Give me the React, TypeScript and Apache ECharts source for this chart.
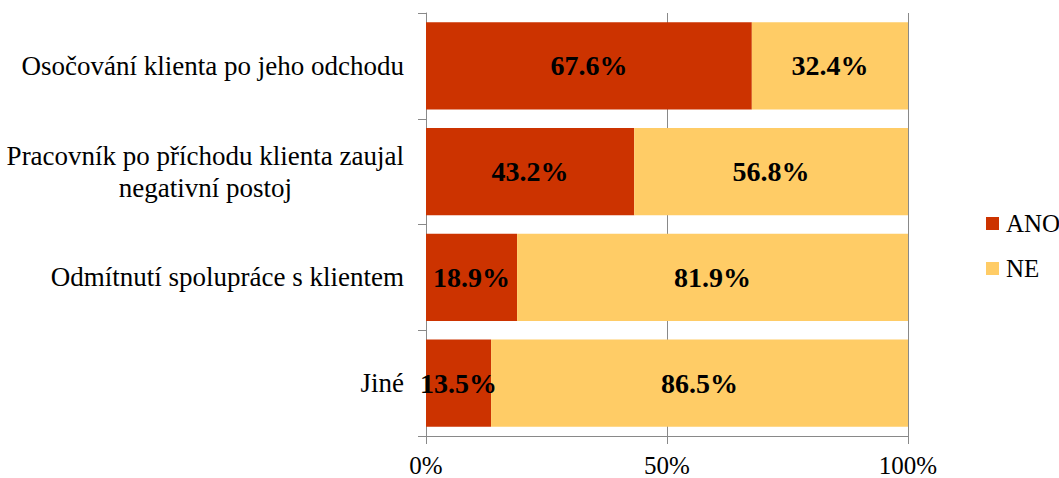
import React, { useEffect, useRef } from "react";
import * as echarts from "echarts";

const categories = [
  "Osočování klienta po jeho odchodu",
  "Pracovník po příchodu klienta zaujal\nnegativní postoj",
  "Odmítnutí spolupráce s klientem",
  "Jiné",
];
const anoValues = [67.6, 43.2, 18.9, 13.5];
const neValues = [32.4, 56.8, 81.9, 86.5];
const xTicks = [0, 50, 100];

const FONT = "Liberation Serif";

export default function App() {
  const ref = useRef<HTMLDivElement>(null);
  useEffect(() => {
    if (!ref.current) return;
    const chart = echarts.init(ref.current, undefined, { renderer: "svg" });
    const labelStyle = {
      show: true,
      position: "inside" as const,
      color: "#000",
      fontWeight: "bold" as const,
      fontSize: 28,
      fontFamily: FONT,
      formatter: (p: any) => Number(p.value).toFixed(1) + "%",
    };
    chart.setOption({
      animation: false,
      grid: { left: 426, right: 151, top: 13, bottom: 42, containLabel: false },
      legend: {
        orient: "vertical",
        left: 981,
        top: 206,
        itemWidth: 13,
        itemHeight: 13,
        itemGap: 20,
        icon: "rect",
        textStyle: { fontSize: 25, fontFamily: FONT, color: "#000", lineHeight: 25, padding: [0, 0, 0, 2] },
        data: ["ANO", "NE"],
      },
      xAxis: {
        type: "value",
        min: xTicks[0],
        max: xTicks[xTicks.length - 1],
        interval: 50,
        axisLine: { show: true, lineStyle: { color: "#898989", width: 1 } },
        axisTick: { show: true, length: 8, lineStyle: { color: "#898989" } },
        splitLine: { show: true, lineStyle: { color: "#898989", width: 1 } },
        axisLabel: {
          margin: 17,
          color: "#000",
          fontSize: 25,
          fontFamily: FONT,
          formatter: "{value}%",
        },
      },
      yAxis: {
        type: "category",
        inverse: true,
        data: categories,
        axisLine: { show: true, lineStyle: { color: "#898989", width: 1 } },
        axisTick: { show: true, length: 8, lineStyle: { color: "#898989" } },
        axisLabel: {
          margin: 22,
          color: "#000",
          fontSize: 27,
          fontFamily: FONT,
          lineHeight: 32,
          formatter: (v: string) => {
            if (v.indexOf("\n") >= 0) {
              const parts = v.split("\n");
              return "{a|" + parts[0] + "}\n{b|" + parts[1] + "}";
            }
            return v;
          },
          rich: {
            a: { fontSize: 27, fontFamily: FONT, color: "#000", lineHeight: 32 },
            b: { fontSize: 27, fontFamily: FONT, color: "#000", lineHeight: 32, align: "center" },
          },
        },
      },
      series: [
        {
          name: "ANO",
          type: "bar",
          stack: "total",
          data: anoValues,
          barCategoryGap: "17.4%",
          itemStyle: { color: "#CC3300" },
          label: labelStyle,
        },
        {
          name: "NE",
          type: "bar",
          stack: "total",
          data: neValues,
          barCategoryGap: "17.4%",
          itemStyle: { color: "#FFCC66" },
          label: labelStyle,
        },
      ],
    });
    return () => chart.dispose();
  }, []);
  return (
    <div
      ref={ref}
      style={{ position: "fixed", left: 0, top: 0, width: 1059, height: 478, background: "#fff" }}
    />
  );
}
